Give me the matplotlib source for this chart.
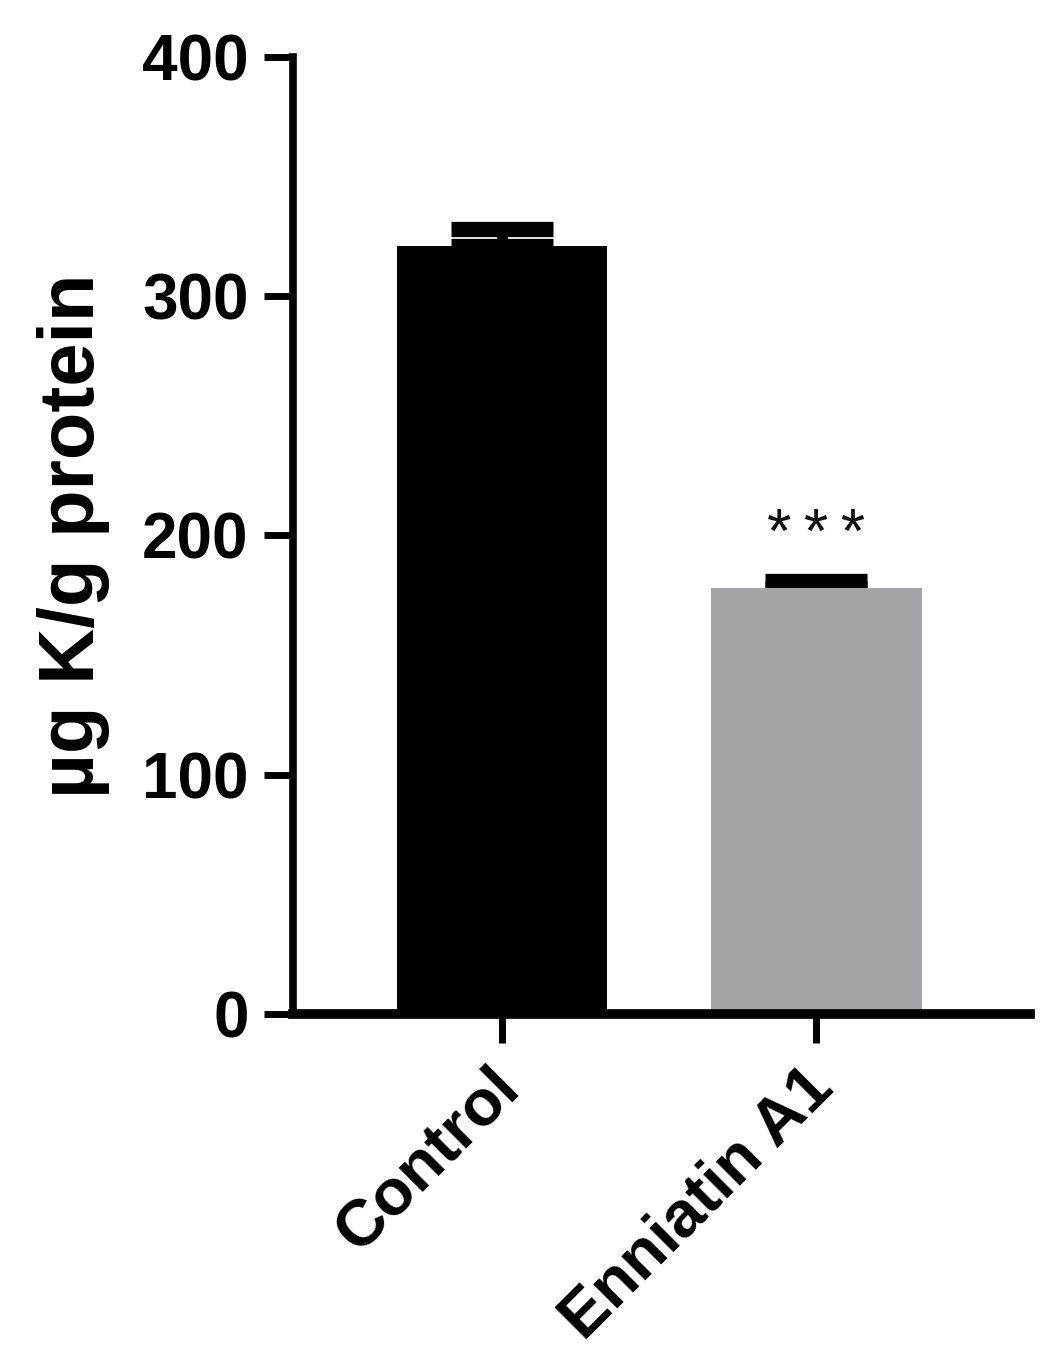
import matplotlib
matplotlib.use('Agg')
import matplotlib.pyplot as plt
from matplotlib.transforms import ScaledTranslation

grupos = ['Control', 'Enniatin A1']
medias = [321, 178]
erros = [7, 3]
cores = ['#000000', '#A4A3A8']

plt.rcParams['font.family'] = ['Liberation Sans', 'DejaVu Sans']

fig = plt.figure(figsize=(10.45, 13.7), dpi=100)
ax = fig.add_axes([0.2804, 0.2599, 0.7052, 0.6985])

x = list(range(len(grupos)))
ax.bar(x, medias, width=0.67, color=cores, zorder=2)
ax.errorbar(x, medias, yerr=[[0, 0], erros], fmt='none', ecolor='black',
            elinewidth=8, capsize=37, capthick=11, zorder=1)

# significancia
ax.text(1, 193, '*\u2009*\u2009*', ha='center', va='baseline', fontsize=45,
        color='#111111')

ax.set_xlim(-0.666, 1.68)
ax.set_ylim(0, 400)
ax.set_yticks([0, 100, 200, 300, 400])
ax.set_xticks(x)
ax.set_xticklabels(grupos, rotation=45, ha='right', rotation_mode='anchor',
                   fontsize=47, fontweight='bold')

ax.set_ylabel('µg K/g protein', fontsize=56, fontweight='bold')
ax.yaxis.set_label_coords(-0.248, 0.5)

for lbl in ax.get_yticklabels():
    lbl.set_fontsize(46)
    lbl.set_fontweight('bold')

ax.spines['top'].set_visible(False)
ax.spines['right'].set_visible(False)
ax.spines['left'].set_linewidth(5.5)
ax.spines['bottom'].set_linewidth(7)
ax.tick_params(axis='y', length=21, width=5, pad=11)
ax.tick_params(axis='x', length=21, width=5, pad=10)

# desloca os rotulos do eixo x um pouco para a esquerda
desloc = ScaledTranslation(-0.14, 0, fig.dpi_scale_trans)
for lbl in ax.xaxis.get_majorticklabels():
    lbl.set_transform(lbl.get_transform() + desloc)

fig.savefig('out.png', dpi=100)
